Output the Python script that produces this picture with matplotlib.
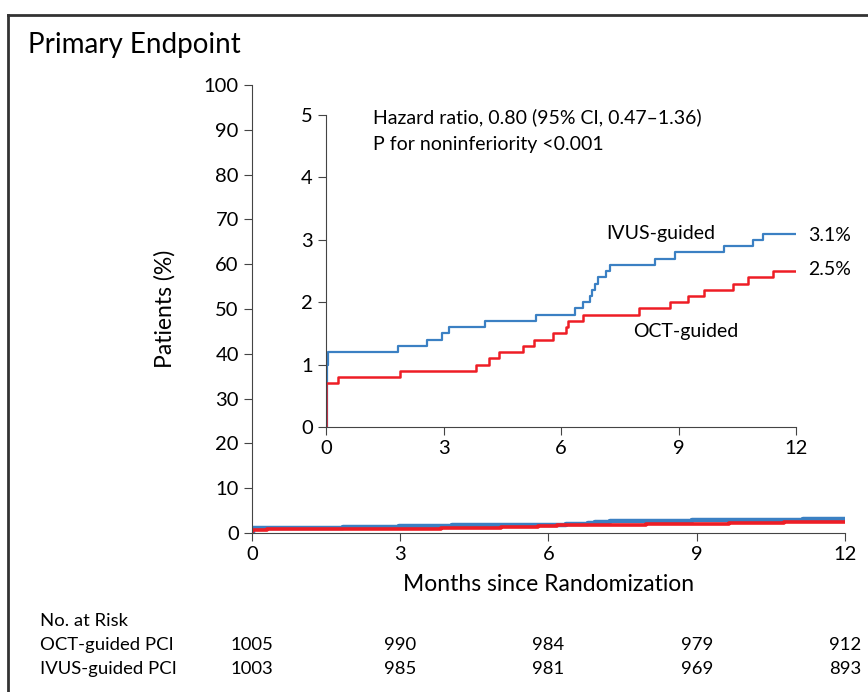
import matplotlib
matplotlib.use('Agg')
import matplotlib.pyplot as plt
from matplotlib import rcParams
from matplotlib.lines import Line2D
import matplotlib.transforms as mtransforms

rcParams['font.family'] = ['Lato', 'DejaVu Sans']
rcParams['font.size'] = 13
rcParams['xtick.direction'] = 'out'
rcParams['ytick.direction'] = 'out'

# cumulative incidence (%) step data
ivus_t = [0, 0.02, 0.05, 1.85, 2.59, 2.97, 3.14, 4.05, 5.36, 6.35, 6.57, 6.75,
          6.80, 6.86, 6.94, 7.16, 7.25, 8.41, 8.91, 10.16, 10.89, 11.15, 12.0]
ivus_y = [0, 1.0, 1.2, 1.3, 1.4, 1.5, 1.6, 1.7, 1.8, 1.9, 2.0, 2.1,
          2.2, 2.3, 2.4, 2.5, 2.6, 2.7, 2.8, 2.9, 3.0, 3.1, 3.1]
oct_t = [0, 0.01, 0.3, 1.88, 3.82, 4.15, 4.41, 5.03, 5.32, 5.79, 6.12, 6.18,
         6.55, 7.98, 8.77, 9.25, 9.66, 10.39, 10.77, 11.42, 12.0]
oct_y = [0, 0.7, 0.8, 0.9, 1.0, 1.1, 1.2, 1.3, 1.4, 1.5, 1.6, 1.7,
         1.8, 1.9, 2.0, 2.1, 2.2, 2.3, 2.4, 2.5, 2.5]

months = [0, 3, 6, 9, 12]
risk_groups = ['OCT-guided PCI', 'IVUS-guided PCI']
risk_oct = [1005, 990, 984, 979, 912]
risk_ivus = [1003, 985, 981, 969, 893]

blue = '#3b80c3'
red = '#ee1d25'
tick_fs = 14.5
note_fs = 14

fig = plt.figure(figsize=(8.68, 6.92), dpi=100)

# main axes
ax = fig.add_axes([0.2903, 0.2298, 0.6832, 0.6474])
ax.step(ivus_t, ivus_y, where='post', color=blue, linewidth=3.2)
ax.step(oct_t, oct_y, where='post', color=red, linewidth=2.6)
ax.set_xlim(0, 12)
ax.set_ylim(0, 100)
ax.set_xticks(months)
ax.set_yticks(range(0, 101, 10))
for s in ['top', 'right']:
    ax.spines[s].set_visible(False)
for s in ['left', 'bottom']:
    ax.spines[s].set_color('#444444')
ax.tick_params(axis='both', labelsize=tick_fs, length=6, color='#444444')
ax.set_xlabel('Months since Randomization', fontsize=16.5, labelpad=8)
ax.set_ylabel('Patients (%)', fontsize=16.5, labelpad=20)

# inset axes
ins = fig.add_axes([0.3756, 0.3829, 0.5415, 0.4509])
ins.step(ivus_t, ivus_y, where='post', color=blue, linewidth=1.6)
ins.step(oct_t, oct_y, where='post', color=red, linewidth=1.8)
ins.set_xlim(0, 12)
ins.set_ylim(0, 5)
ins.set_xticks(months)
ins.set_yticks(range(0, 6))
ins.patch.set_alpha(0)
for s in ['top', 'right']:
    ins.spines[s].set_visible(False)
for s in ['left', 'bottom']:
    ins.spines[s].set_color('#444444')
ins.tick_params(axis='both', labelsize=tick_fs, length=6, color='#444444')

ins.text(1.2, 4.97, 'Hazard ratio, 0.80 (95% CI, 0.47\u20131.36)', fontsize=note_fs,
         va='center', ha='left')
ins.text(1.2, 4.52, 'P for noninferiority <0.001', fontsize=note_fs,
         va='center', ha='left')
ins.text(7.15, 3.1, 'IVUS-guided', fontsize=note_fs, va='center', ha='left')
ins.text(7.85, 1.53, 'OCT-guided', fontsize=note_fs, va='center', ha='left')
ins.text(12.3, 3.07, '3.1%', fontsize=note_fs, va='center', ha='left')
ins.text(12.3, 2.52, '2.5%', fontsize=note_fs, va='center', ha='left')

# title
fig.text(28 / 868, 1 - 45 / 692, 'Primary Endpoint', fontsize=20,
         va='center', ha='left')

# number at risk table
trans = mtransforms.blended_transform_factory(ax.transData, fig.transFigure)
fig.text(40 / 868, 1 - 621 / 692, 'No. at Risk', fontsize=13.3, va='center')
rows_y = [1 - 645 / 692, 1 - 669 / 692]
for name, vals, yy in zip(risk_groups, [risk_oct, risk_ivus], rows_y):
    fig.text(40 / 868, yy, name, fontsize=13.3, va='center')
    for m, v in zip(months, vals):
        ax.text(m, yy, str(v), transform=trans, fontsize=13.3,
                va='center', ha='center')

# frame lines
fig.add_artist(Line2D([8 / 868, 1], [1 - 15 / 692, 1 - 15 / 692],
                      transform=fig.transFigure, color='#333333', lw=2))
fig.add_artist(Line2D([8 / 868, 8 / 868], [0, 1 - 15 / 692],
                      transform=fig.transFigure, color='#333333', lw=2))

fig.savefig('out.png', dpi=100)
